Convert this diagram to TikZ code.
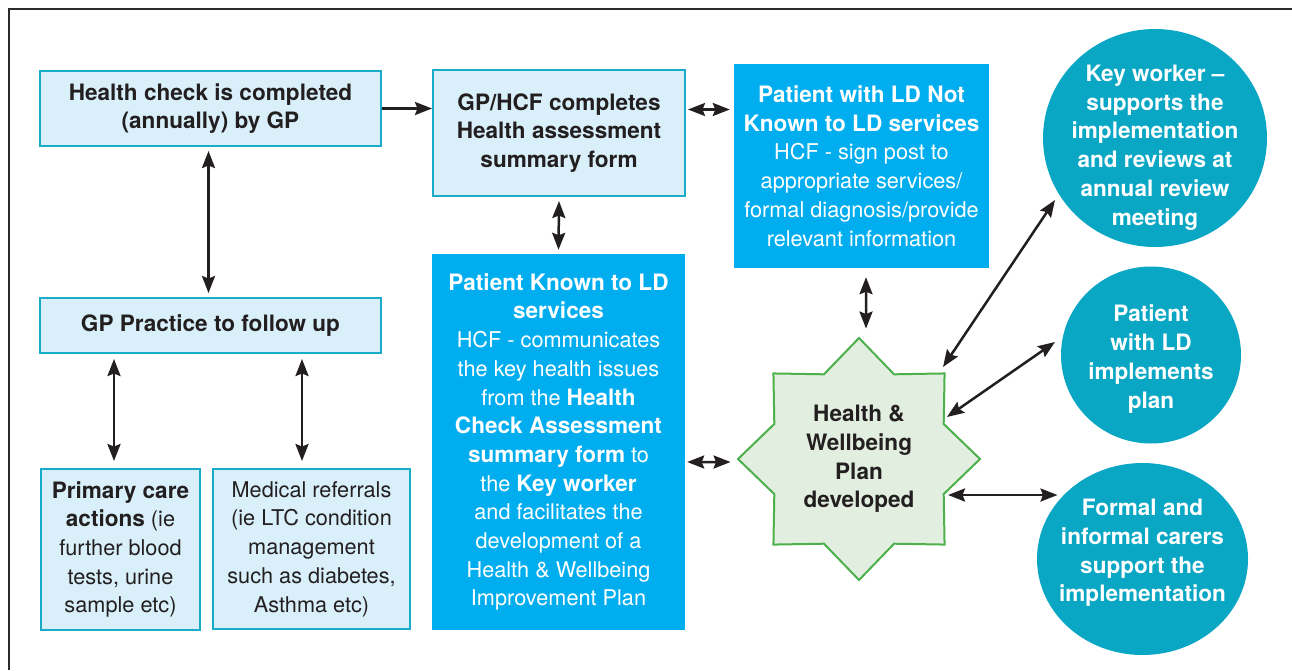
\documentclass[tikz,border=0pt]{standalone}
\usepackage{fontspec}
\setmainfont{TeX Gyre Heros}[BoldFeatures={Scale=1.04}]
\usetikzlibrary{shapes.geometric,arrows.meta,calc}
\definecolor{ink}{HTML}{231F20}
\definecolor{lfill}{HTML}{D9F0FA}
\definecolor{lborder}{HTML}{19ACC9}
\definecolor{cyanbox}{HTML}{00AEEF}
\definecolor{tealc}{HTML}{0AA7C5}
\definecolor{starfill}{HTML}{E2EEDF}
\definecolor{stargreen}{HTML}{4DB04A}
\definecolor{framegray}{HTML}{2B2B2B}
\begin{document}
\begin{tikzpicture}[x=1pt,y=-1pt,
  every node/.style={font=\fontsize{21.7}{28.7}\selectfont, text=ink},
  boldtext/.style={font=\bfseries\fontsize{21.7}{28.7}\selectfont},
  lbox/.style={draw=lborder, line width=2pt, fill=lfill, align=center, inner sep=0pt},
  cbox/.style={fill=cyanbox, text=white, align=center, inner sep=0pt},
  circ/.style={ellipse, fill=tealc, inner sep=0pt},
  circtext/.style={text=white, align=center, inner sep=0pt, boldtext},
  dbl/.style={draw=ink, line width=2.5pt, {Stealth[length=17pt,width=13pt,inset=2.5pt]}-{Stealth[length=17pt,width=13pt,inset=2.5pt]}},
  sgl/.style={draw=ink, line width=2.5pt, -{Stealth[length=17pt,width=13pt,inset=2.5pt]}}
]
\useasboundingbox (0,0) rectangle (1292,670);
\fill[white] (0,0) rectangle (1292,670);
\draw[line width=1.3pt, framegray] (9,670) -- (9,9) -- (1292,9);

% boxes
\node[lbox, boldtext, minimum width=341pt, minimum height=75pt] (A) at (210.5,108.5)
  {Health check is completed\\(annually) by GP};
\node[lbox, boldtext, minimum width=252pt, minimum height=126pt] (B) at (559,133)
  {GP/HCF completes\\Health assessment\\summary form};
\node[cbox, minimum width=255pt, minimum height=204pt] (C) at (861.5,166)
  {\textbf{Patient with LD Not}\\\textbf{Known to LD services}\\HCF - sign post to\\appropriate services/\\formal diagnosis/provide\\relevant information};
\node[cbox, minimum width=253pt, minimum height=376pt] (D) at (558.5,442)
  {\textbf{Patient Known to LD}\\\textbf{services}\\HCF - communicates\\the key health issues\\from the \textbf{Health}\\\textbf{Check Assessment}\\\textbf{summary form} to\\the \textbf{Key worker}\\and facilitates the\\development of a\\Health \& Wellbeing\\Improvement Plan};
\node[lbox, boldtext, minimum width=341pt, minimum height=55pt] (E) at (210.5,325.5)
  {GP Practice to follow up};
\node[lbox, minimum width=159pt, minimum height=161pt] (F) at (120.5,549.5)
  {\textbf{Primary care}\\\textbf{actions} (ie\\further blood\\tests, urine\\sample etc)};
\node[lbox, minimum width=197pt, minimum height=160pt] (G) at (311.5,549)
  {Medical referrals\\(ie LTC condition\\management\\such as diabetes,\\Asthma etc)};

% star
\node[star, star points=8, star point ratio=1.32, minimum size=242pt, draw=stargreen, fill=starfill,
  line width=2pt, inner sep=0pt, align=center, boldtext] (S) at (859,459)
  {Health \&\\Wellbeing\\Plan\\developed};

% circles
\node[circ, minimum width=224pt, minimum height=218pt] (K) at (1155,138) {};
\node[circtext] (Kt) at ($(K.center)+(0,9.5)$)
  {Key worker --\\supports the\\implementation\\and reviews at\\annual review\\meeting};
\node[circ, minimum width=180pt, minimum height=177pt] (P) at (1151,355) {};
\node[circtext] (Pt) at ($(P.center)+(0,4)$)
  {Patient\\with LD\\implements\\plan};
\node[circ, minimum width=211pt, minimum height=192pt] (R) at (1142.5,559) {};
\node[circtext] (Rt) at ($(R.center)+(0,-6)$)
  {Formal and\\informal carers\\support the\\implementation};

% connectors
\draw[sgl] (A.east) -- (A.east -| B.west);
\draw[dbl] ($(B.east|-A.east)+(2,1)$) -- ($(C.west|-A.east)+(-4,1)$);
\draw[dbl] ($(B.south)+(0,4)$) -- ($(D.north)+(0,-4)$);
\draw[dbl] ($(A.south)+(-2,4)$) -- ($(E.north)+(-2,-4)$);
\draw[dbl] ($(E.south-|F.north)+(-6.5,5)$) -- ($(F.north)+(-6.5,-7)$);
\draw[dbl] ($(E.south-|G.north)+(-9.5,5)$) -- ($(G.north)+(-9.5,-7)$);
\draw[dbl] ($(D.east|-S.center)+(2,3)$) -- ($(S.west)+(-6,3)$);
\draw[dbl] ($(C.south)+(4.5,9)$) -- ($(S.north)+(7,-8)$);
\draw[dbl] ($(S.center)+(84,-92)$) -- ($(K.center)+(-100,62)$);
\draw[dbl] ($(S.center)+(88,-42)$) -- ($(P.center)+(-96,-13)$);
\draw[dbl] ($(S.center)+(89,36)$) -- ($(R.center)+(-85,-64)$);
\end{tikzpicture}
\end{document}
